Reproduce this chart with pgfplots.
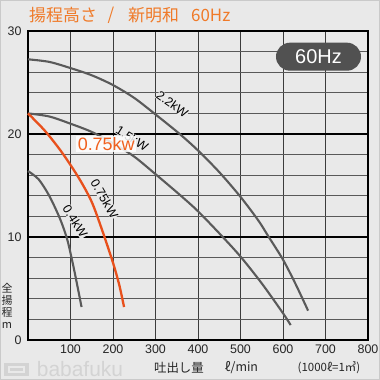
\documentclass[border=0pt]{standalone}
\usepackage{pgfplots}
\pgfplotsset{compat=1.18}
\usepackage{fontspec}
\setmainfont{Liberation Sans}
\newfontfamily\jp{Noto Sans CJK JP}
\definecolor{bg}{HTML}{E9E9E9}
\definecolor{gline}{HTML}{5A5A5A}
\definecolor{gridc}{HTML}{3C3C3C}
\definecolor{ocurve}{HTML}{E8501C}
\definecolor{otitle}{HTML}{F07A28}
\definecolor{olabel}{HTML}{F0601E}
\definecolor{wm}{HTML}{D3D3D3}
\begin{document}
\begin{tikzpicture}[x=1bp,y=1bp]
\fill[bg] (0,0) rectangle (380,380);
\useasboundingbox (0,0) rectangle (380,380);
\draw[wm!80!black!20!wm, line width=1bp] (0.5,0.5) rectangle (379.5,379.5);
\begin{axis}[
  at={(28bp,40bp)}, anchor=origin,
  scale only axis, width=340bp, height=309bp,
  xmin=0, xmax=800, ymin=0, ymax=30,
  axis line style={line width=1.6bp, black},
  xtick={100,200,...,800},
  ytick={0,10,20,30},
  minor ytick={2,4,6,8,12,14,16,18,22,24,26,28},
  extra y ticks={10,20},
  extra y tick labels={},
  extra y tick style={major grid style={black, line width=1.3bp}},
  xmajorgrids, ymajorgrids, yminorgrids,
  major grid style={gridc, line width=0.75bp},
  minor grid style={gridc!85, line width=0.7bp},
  major tick length=0pt, minor tick length=0pt,
  tick style={draw=none},
  /pgf/number format/assume math mode=true,
  ticklabel style={font=\fontsize{12.5}{14}\selectfont, text=black!85},
  yticklabel style={xshift=-3bp},
  xticklabel style={yshift=-1bp},
  clip=false,
]
\addplot[gline, line width=2.1bp, smooth] coordinates {
(0,27.25)(50,27.0)(100,26.4)(150,25.7)(200,24.75)(250,23.5)(300,21.9)(357,20)(400,18.4)(450,16.3)(500,13.9)(542,11.6)(565,10.1)(600,7.8)(630,5.4)(659,2.85)};
\addplot[gline, line width=2.1bp, smooth] coordinates {
(0,22)(50,21.7)(100,21.0)(150,20.2)(200,19.1)(250,17.8)(300,16.1)(357,14.1)(400,12.5)(456,10.1)(500,8.1)(550,5.5)(600,2.6)(618,1.45)};
\addplot[gline, line width=2.1bp, smooth] coordinates {
(0,16.4)(25,15.6)(50,14.0)(75,11.8)(92,9.8)(105,7.5)(116,5.3)(126,3.2)};
\addplot[ocurve, line width=2.3bp, smooth] coordinates {
(0,22)(40,20.3)(80,18.2)(120,15.7)(150,13.4)(175,10.6)(200,7.5)(215,5.3)(226,3.2)};
\node[rotate=-35, font=\fontsize{12.5}{14}\selectfont, fill=bg, inner sep=0.3bp] at (axis cs:340,22.9) {2.2kW};
\node[rotate=-32, font=\fontsize{12.5}{14}\selectfont, fill=bg, inner sep=0.3bp] at (axis cs:245,19.6) {1.5kW};
\node[font=\fontsize{18}{20}\selectfont, text=olabel, fill=white, fill opacity=0.85, text opacity=1, inner sep=1.5bp] at (axis cs:184,19.0) {0.75kw};
\node[rotate=-60, font=\fontsize{12.5}{14}\selectfont, fill=bg, inner sep=0.3bp] at (axis cs:180,13.7) {0.75kW};
\node[rotate=-58, font=\fontsize{12.5}{14}\selectfont, fill=bg, inner sep=0.3bp] at (axis cs:111,11.5) {0.4kW};
\end{axis}
% 60Hz badge
\node[fill=gline!90!black, rounded corners=14bp, minimum width=85bp, minimum height=28bp, inner sep=0, text=white, font=\fontsize{20}{22}\selectfont] at (318.5,323.3) {60Hz};
% title
\begin{scope}[every node/.style={inner sep=0, text=otitle, font=\jp\fontsize{17}{19}\selectfont}]
\node[anchor=west] at (29,365) {揚程高さ};
\node at (111,365) {/};
\node[anchor=west] at (128,365) {新明和};
\node[anchor=west] at (191,365) {60Hz};
\end{scope}
% y label
\node[font=\jp\fontsize{11}{12.3}\selectfont, align=center, inner sep=0, text=black!85] at (7,74) {全\\揚\\程\\m};
% x label
\node[font=\jp\fontsize{12.5}{14}\selectfont, inner sep=0, text=black!85] at (179,12) {吐出し量};
\node[font=\jp\fontsize{12.5}{14}\selectfont, inner sep=0, text=black!85] at (241.5,12) {ℓ/min};
\node[font=\jp\fontsize{11.5}{13}\selectfont, inner sep=0, text=black!85] at (329,12) {(1000ℓ=1㎥)};
% watermark
\fill[wm] (4,4) rectangle (29,17);
\fill[bg] (8,7) rectangle (25,14);
\fill[wm] (10,9) rectangle (23,12);
\node[font=\fontsize{21}{23}\selectfont, text=wm, inner sep=0] at (80,11) {babafuku};
\end{tikzpicture}
\end{document}
